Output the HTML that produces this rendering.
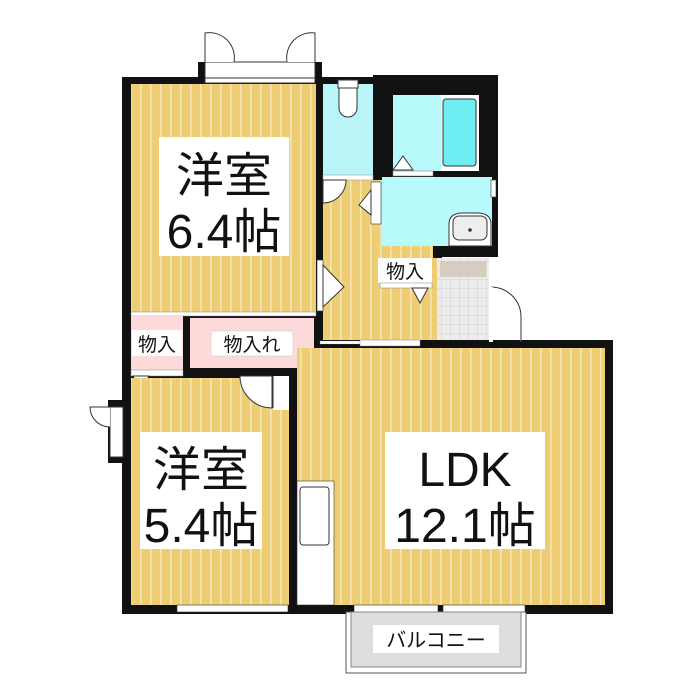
<!DOCTYPE html>
<html><head><meta charset="utf-8"><style>
html,body{margin:0;padding:0;background:#fff}
svg{display:block}
text{font-family:"Liberation Sans","Noto Sans CJK JP",sans-serif;fill:#111}
</style></head><body>
<svg width="700" height="700" viewBox="0 0 700 700" xmlns="http://www.w3.org/2000/svg">
<defs>
<pattern id="st" width="10" height="10" patternUnits="userSpaceOnUse">
<rect width="10" height="10" fill="#efcd72"/>
<rect x="0" width="1.6" height="10" fill="#f8e6b2"/>
</pattern>
<pattern id="tile" width="9" height="9" patternUnits="userSpaceOnUse">
<rect width="9" height="9" fill="#ececec"/>
<path d="M0 0H9M0 0V9" stroke="#cfcfcf" stroke-width="1"/>
</pattern>
</defs>
<rect x="122" y="77" width="201" height="300" fill="#111"/>
<rect x="316" y="77" width="60" height="108" fill="#111"/>
<rect x="373" y="75" width="125" height="182" fill="#111"/>
<rect x="370" y="250" width="72" height="42" fill="#111"/>
<rect x="122" y="370" width="175" height="244" fill="#111"/>
<rect x="289" y="340" width="324" height="274" fill="#111"/>
<rect x="198" y="62" width="124" height="21" fill="#111"/>
<rect x="205" y="62" width="110" height="21" fill="#fff" stroke="#333" stroke-width="1"/>
<line x1="205" y1="78" x2="315" y2="78" stroke="#333"/>
<path d="M205 62V33A25 25 0 0 1 234 62" fill="#fff" stroke="#333"/>
<path d="M315 62V33A25 25 0 0 0 287 62" fill="#fff" stroke="#333"/>
<rect x="131" y="84" width="185" height="228" fill="url(#st)"/>
<rect x="323" y="84" width="50" height="91" fill="#b8f4f8"/>
<rect x="338" y="80" width="20" height="8" fill="#fff" stroke="#333"/>
<path d="M339 88h18v20a9 9 0 0 1 -18 0z" fill="#fff" stroke="#333"/>
<rect x="323" y="180" width="110" height="160" fill="url(#st)"/>
<rect x="433" y="258" width="10" height="82" fill="url(#st)"/>
<rect x="323" y="175" width="50" height="5" fill="#fff" stroke="#999" stroke-width="0.6"/>
<path d="M323 180v23a23 23 0 0 0 23 -23z" fill="#fff" stroke="#333"/>
<rect x="393" y="95" width="86" height="76" fill="#b8f9fc"/>
<rect x="441" y="95" width="38" height="76" fill="#fff"/>
<rect x="443" y="99" width="33" height="67" rx="3" fill="#6eeef3" stroke="#333"/>
<path d="M393 170l10 -14l10 14z" fill="#fff" stroke="#333"/>
<rect x="393" y="171" width="40" height="5" fill="#fff" stroke="#888" stroke-width="0.6"/>
<rect x="382" y="177" width="110" height="69" fill="#b8f9fc"/>
<rect x="491" y="180" width="5" height="17" fill="#fff" stroke="#333" stroke-width="0.6"/>
<path d="M449 246v-22q0 -11 14 -11h14q14 0 14 11v22z" fill="#fff" stroke="#333"/>
<rect x="453" y="216" width="34" height="24" rx="6" fill="#eee" stroke="#333"/>
<circle cx="470" cy="230" r="1.8" fill="#333"/>
<rect x="371" y="182" width="10" height="42" fill="#fff" stroke="#333" stroke-width="0.6"/>
<path d="M371 190l-12 15l12 10z" fill="#fff" stroke="#333"/>
<rect x="378" y="258" width="54" height="25" fill="#fff"/>
<text x="405" y="278" font-size="19" text-anchor="middle">物入</text>
<rect x="380" y="283" width="52" height="5" fill="#fff" stroke="#888" stroke-width="0.5"/>
<path d="M412 288l8 15l8 -15z" fill="#fff" stroke="#333"/>
<rect x="437" y="258" width="52" height="82" fill="url(#tile)"/>
<rect x="440" y="261" width="46" height="16" fill="#d6cdc0"/>
<path d="M491 287a30 30 0 0 1 30 30v25" fill="#fff" stroke="#333"/>
<rect x="489" y="287" width="4" height="55" fill="#fff"/>
<rect x="317" y="260" width="6" height="51" fill="#fff" stroke="#333" stroke-width="0.6"/>
<path d="M323 265l21 22l-21 20z" fill="#fff" stroke="#333"/>
<rect x="131" y="312" width="185" height="4" fill="#fff" stroke="#888" stroke-width="0.5"/>
<rect x="131" y="316" width="52" height="54" fill="#fcdada"/>
<rect x="190" y="318" width="124" height="50" fill="#fcdada"/>
<rect x="132" y="330" width="50" height="26" fill="#fff"/>
<text x="157" y="351" font-size="19" text-anchor="middle">物入</text>
<rect x="211" y="331" width="82" height="25" fill="#fff" stroke="#ccc" stroke-width="0.6"/>
<text x="252" y="351" font-size="19" text-anchor="middle">物入れ</text>
<rect x="131" y="370" width="52" height="6" fill="#fff" stroke="#888" stroke-width="0.5"/>
<path d="M133 376l8 14l8 -14z" fill="#fff" stroke="#333"/>
<rect x="131" y="378" width="158" height="227" fill="url(#st)"/>
<path d="M240 376a32 32 0 0 0 32 32v-32z" fill="#fff" stroke="#333"/>
<rect x="273" y="376" width="16" height="34" fill="#fff"/>
<line x1="273" y1="376" x2="273" y2="408" stroke="#333"/>
<rect x="108" y="400" width="22" height="63" fill="#111"/>
<rect x="110" y="407" width="13" height="50" fill="#fff" stroke="#333"/>
<path d="M110 407h-20a20 20 0 0 0 20 20" fill="#fff" stroke="#333"/>
<rect x="297" y="348" width="308" height="257" fill="url(#st)"/>
<rect x="320" y="341" width="90" height="3" fill="#fff" stroke="#999" stroke-dasharray="1 1" stroke-width="0.6"/>
<rect x="360" y="340" width="60" height="6" fill="#fff" stroke="#888" stroke-width="0.5"/>
<rect x="297" y="481" width="37" height="124" fill="#fff" stroke="#333" stroke-width="0.6"/>
<rect x="300" y="487" width="29" height="58" rx="3" fill="#fff" stroke="#333"/>
<rect x="177" y="605" width="111" height="7" fill="#fff" stroke="#333" stroke-width="0.6"/>
<rect x="354" y="605" width="84" height="7" fill="#fff" stroke="#333" stroke-width="0.6"/>
<rect x="443" y="605" width="82" height="7" fill="#fff" stroke="#333" stroke-width="0.6"/>
<rect x="346" y="612" width="180" height="61" fill="#fff" stroke="#555"/>
<rect x="351" y="612" width="170" height="55" fill="#ddd" stroke="#888"/>
<rect x="373" y="625" width="126" height="28" fill="#fff"/>
<text x="436" y="647" font-size="20" text-anchor="middle">バルコニー</text>
<rect x="159" y="137" width="130" height="119" fill="#fff"/>
<text x="224" y="192" font-size="48" text-anchor="middle">洋室</text>
<text x="224" y="248" font-size="48" text-anchor="middle">6.4帖</text>
<rect x="140" y="432" width="122" height="117" fill="#fff"/>
<text x="201" y="486" font-size="48" text-anchor="middle">洋室</text>
<text x="201" y="542" font-size="48" text-anchor="middle">5.4帖</text>
<rect x="385" y="432" width="160" height="117" fill="#fff"/>
<text x="465" y="486" font-size="48" text-anchor="middle">LDK</text>
<text x="465" y="542" font-size="48" text-anchor="middle">12.1帖</text>
</svg>
</body></html>
